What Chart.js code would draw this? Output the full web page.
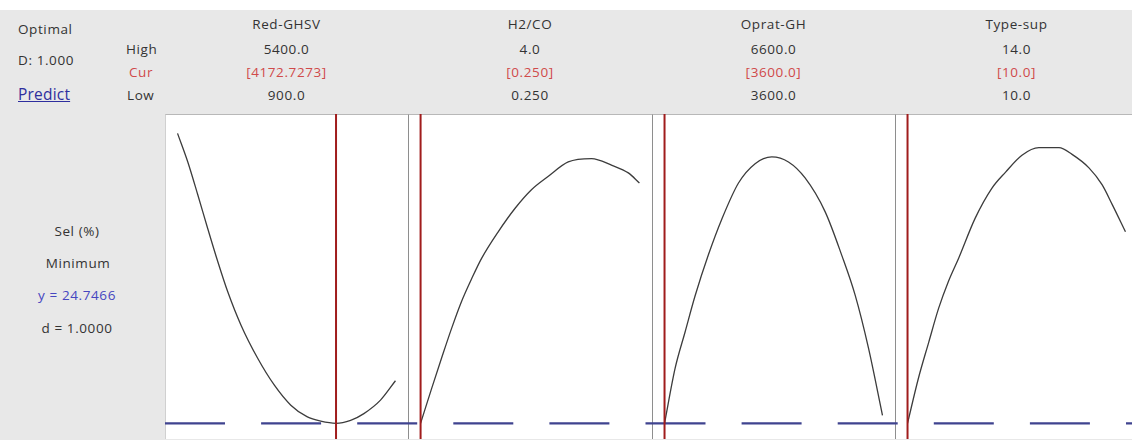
<!DOCTYPE html>
<html>
<head>
<meta charset="utf-8">
<script src="https://cdn.jsdelivr.net/npm/chart.js@4/dist/chart.umd.min.js"></script>
<style>
  html, body { margin: 0; padding: 0; background: #ffffff; }
  body { width: 1132px; height: 440px; overflow: hidden; position: relative;
         font-family: "Open Sans", "Noto Sans", sans-serif; color: #333333; }
  #shade { position: absolute; left: 0; top: 10px; width: 1132px; height: 430px; background: #e8e8e8; }
  .t { position: absolute; white-space: nowrap; font-size: 13.5px; line-height: 16px; letter-spacing: 0.6px; }
  .c { transform: translateX(-50%); text-align: center; }
  .red { color: #d04a4a; }
  .panel { position: absolute; top: 114px; height: 325px; background: #ffffff;
           border-top: 1px solid #b8b8b8; box-sizing: border-box; }
  .panel canvas { position: absolute; left: 0; top: 0; }
</style>
</head>
<body>
<div id="shade"></div>
<div id="root"></div>
<script>
// Factor settings of the optimizer
const factorNames = ['Red-GHSV', 'H2/CO', 'Oprat-GH', 'Type-sup'];
const highLabels  = ['5400.0', '4.0', '6600.0', '14.0'];
const curLabels   = ['[4172.7273]', '[0.250]', '[3600.0]', '[10.0]'];
const lowLabels   = ['900.0', '0.250', '3600.0', '10.0'];
const lowValues   = [900, 0.25, 3600, 10];
const highValues  = [5400, 4.0, 6600, 14];
const curValues   = [4172.7273, 0.25, 3600, 10];

// Response: Sel (%), goal minimum
const responseName = 'Sel (%)';
const goalName = 'Minimum';
const yOptimal = 24.7466;
const dValue = '1.0000';
const compositeD = '1.000';

// Predicted Sel (%) traced along each factor
const ghsvX   = [900, 1112, 1318, 1523, 1729, 1935, 2211, 2552, 2896, 3239, 3581, 3857, 4172.7273, 4474, 4748, 5091, 5400];
const ghsvSel = [59.2, 55.8, 51.9, 47.9, 44.0, 40.4, 36.4, 32.5, 29.3, 26.9, 25.5, 25.0, 24.7466, 25.1, 25.9, 27.5, 29.8];

const h2coX   = [0.25, 0.44, 0.61, 0.78, 0.95, 1.13, 1.30, 1.58, 1.87, 2.15, 2.44, 2.78, 3.18, 3.53, 3.81, 4.0];
const h2coSel = [24.7466, 28.9, 32.5, 36.0, 39.2, 42.0, 44.4, 47.5, 50.3, 52.5, 54.1, 55.8, 56.2, 55.4, 54.5, 53.3];

const opratX   = [3600, 3746, 3883, 4021, 4205, 4388, 4618, 4847, 5076, 5306, 5535, 5810, 6040, 6223, 6407, 6600];
const opratSel = [24.7466, 31.3, 35.6, 39.9, 44.8, 49.0, 53.3, 55.6, 56.4, 55.8, 53.9, 49.9, 44.7, 40.0, 33.7, 25.7];

const typeX   = [10, 10.20, 10.39, 10.57, 10.75, 10.94, 11.24, 11.55, 11.80, 12.10, 12.41, 12.78, 13.02, 13.33, 13.57, 13.76, 14.0];
const typeSel = [24.7466, 30.1, 34.4, 38.4, 41.6, 44.4, 49.1, 52.7, 54.6, 56.6, 57.5, 57.5, 56.7, 55.1, 53.1, 50.7, 47.5];

const curveX = [ghsvX, h2coX, opratX, typeX];
const curveY = [ghsvSel, h2coSel, opratSel, typeSel];

// Common response axis for all panels
const yMin = 22.88;
const yMax = 61.5;

// Panel layout
const panelLeft = [165, 408, 652, 895];
const panelWidth = [243, 244, 243, 243];
const panelHeight = 325;
const edgePad = 0.0575;          // share of each factor range kept free on both sides
const dashPattern = [60, 36.1];
const dashStart = 165;

const root = document.getElementById('root');

function addText(txt, x, yCenter, cls, style) {
  const d = document.createElement('div');
  d.className = 't ' + (cls || '');
  d.textContent = txt;
  d.style.left = x + 'px';
  d.style.top = (yCenter - 8) + 'px';
  if (style) Object.assign(d.style, style);
  root.appendChild(d);
  return d;
}

// Header rows (vertical centres)
const ROWS = { name: 24, high: 49, cur: 72, low: 95 };

// Left header block
addText('Optimal', 18, 29);
addText('D: ' + compositeD, 18, 60);
addText('Predict', 18, 94, '', { fontSize: '15.5px', color: '#2e2e9e', textDecoration: 'underline', letterSpacing: '0.2px' });
addText('High', 126, ROWS.high);
addText('Cur', 129, ROWS.cur, 'red');
addText('Low', 127, ROWS.low);

// Response block
addText(responseName, 77, 231, 'c');
addText(goalName, 78, 263, 'c');
addText('y = ' + yOptimal.toFixed(4), 77, 295, 'c', { color: '#4646c0' });
addText('d = ' + dValue, 77, 328, 'c');

for (let i = 0; i < factorNames.length; i++) {
  const cx = panelLeft[i] + panelWidth[i] / 2;
  addText(factorNames[i], cx, ROWS.name, 'c');
  addText(highLabels[i], cx, ROWS.high, 'c');
  addText(curLabels[i], cx, ROWS.cur, 'c red');
  addText(lowLabels[i], cx, ROWS.low, 'c');

  const wrap = document.createElement('div');
  wrap.className = 'panel';
  wrap.style.left = panelLeft[i] + 'px';
  wrap.style.width = panelWidth[i] + 'px';
  wrap.style.borderLeft = i === 0 ? '1px solid #d0d0d0' : '1px solid #8e8e8e';
  root.appendChild(wrap);

  const cv = document.createElement('canvas');
  cv.width = panelWidth[i];
  cv.height = panelHeight;
  cv.style.width = panelWidth[i] + 'px';
  cv.style.height = panelHeight + 'px';
  cv.style.left = '-1px';
  cv.style.top = '-1px';
  wrap.appendChild(cv);

  const span = highValues[i] - lowValues[i];
  const xMin = lowValues[i] - span * edgePad;
  const xMax = highValues[i] + span * edgePad;

  const curve = curveX[i].map((x, k) => ({ x: x, y: curveY[i][k] }));
  const optimumLine = [{ x: xMin, y: yOptimal }, { x: xMax, y: yOptimal }];
  const currentLine = [{ x: curValues[i], y: yMin }, { x: curValues[i], y: yMax }];

  new Chart(cv.getContext('2d'), {
    type: 'line',
    data: {
      datasets: [
        {
          data: optimumLine,
          borderColor: '#3f438f',
          borderWidth: 2.2,
          borderDash: dashPattern,
          borderDashOffset: panelLeft[i] - dashStart,
          pointRadius: 0,
          fill: false,
          order: 3
        },
        {
          data: curve,
          borderColor: '#3c3c3c',
          borderWidth: 1.3,
          pointRadius: 0,
          cubicInterpolationMode: 'monotone',
          fill: false,
          order: 2
        },
        {
          data: currentLine,
          borderColor: '#a01c1c',
          borderWidth: 2,
          pointRadius: 0,
          fill: false,
          order: 1
        }
      ]
    },
    options: {
      responsive: false,
      animation: false,
      events: [],
      layout: { padding: 0 },
      scales: {
        x: { type: 'linear', display: false, min: xMin, max: xMax },
        y: { type: 'linear', display: false, min: yMin, max: yMax }
      },
      plugins: { legend: { display: false }, tooltip: { enabled: false } }
    }
  });
}
</script>
</body>
</html>
